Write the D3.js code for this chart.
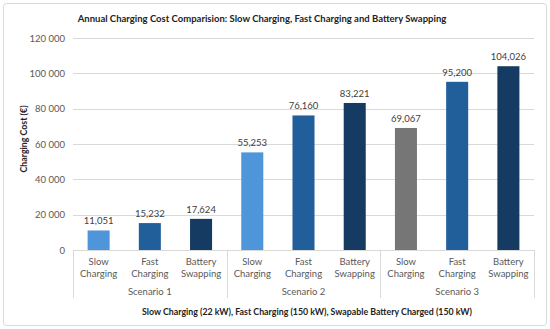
<!DOCTYPE html>
<html>
<head>
<meta charset="utf-8">
<title>Annual Charging Cost</title>
<script src="https://cdn.jsdelivr.net/npm/d3@7"></script>
<style>
  body { margin: 0; background: #fff; }
  svg text { font-family: Lato, "Liberation Sans", sans-serif; }
</style>
</head>
<body>
<svg id="chart" width="550" height="329"></svg>
<script>
// data
var scenarios = ["Scenario 1", "Scenario 2", "Scenario 3"];
var methods = [["Slow", "Charging"], ["Fast", "Charging"], ["Battery", "Swapping"]];
var costs = [
  [11051, 15232, 17624],
  [55253, 76160, 83221],
  [69067, 95200, 104026]
];
var yTicks = [0, 20000, 40000, 60000, 80000, 100000, 120000];
var barColors = [
  ["#4e95d9", "#215f9a", "#163b63"],
  ["#4e95d9", "#215f9a", "#163b63"],
  ["#767676", "#215f9a", "#163b63"]
];

var rows = [];
scenarios.forEach(function(s, i) {
  methods.forEach(function(m, j) {
    rows.push({ key: s + "|" + j, scen: i, meth: j, label: m, value: costs[i][j], color: barColors[i][j] });
  });
});

var svg = d3.select("#chart");
var mLeft = 73, mRight = 534, mTop = 38, mBottom = 250;

svg.append("rect")
  .attr("x", 3.5).attr("y", 3.5).attr("width", 543).attr("height", 322)
  .attr("rx", 3).attr("fill", "#fff").attr("stroke", "#d9d9d9");

var x = d3.scaleBand().domain(rows.map(function(d) { return d.key; }))
  .range([mLeft, mRight]).paddingInner(0.57).paddingOuter(0.285);
var y = d3.scaleLinear().domain([0, 120000]).range([mBottom, mTop]);

// gridlines
svg.append("g").selectAll("line").data(yTicks.slice(1)).enter().append("line")
  .attr("x1", mLeft).attr("x2", mRight)
  .attr("y1", function(d) { return Math.round(y(d)) + 0.5; })
  .attr("y2", function(d) { return Math.round(y(d)) + 0.5; })
  .attr("stroke", "#d9d9d9").attr("stroke-width", 1);

// y axis labels
var fmt = function(v) { return d3.format(",")(v).replace(/,/g, " "); };
var yAxis = svg.append("g").attr("transform", "translate(" + mLeft + ",0)")
  .call(d3.axisLeft(y).tickValues(yTicks).tickFormat(fmt).tickSize(0).tickPadding(8));
yAxis.select(".domain").remove();
yAxis.selectAll("text").attr("font-size", 9.5).attr("fill", "#595959")
  .style("font-family", "Lato, sans-serif");

// bars
svg.append("g").selectAll("rect").data(rows).enter().append("rect")
  .attr("x", function(d) { return x(d.key); })
  .attr("width", x.bandwidth())
  .attr("y", function(d) { return y(d.value); })
  .attr("height", function(d) { return y(0) - y(d.value); })
  .attr("fill", function(d) { return d.color; });

// value labels
svg.append("g").selectAll("text").data(rows).enter().append("text")
  .attr("x", function(d) { return x(d.key) + x.bandwidth() / 2; })
  .attr("y", function(d) { return y(d.value) - 6; })
  .attr("text-anchor", "middle").attr("font-size", 9.5).attr("fill", "#404040")
  .text(function(d) { return d3.format(",")(d.value); });

// category axis box
var axisG = svg.append("g").attr("stroke", "#d9d9d9").attr("stroke-width", 1);
axisG.append("line").attr("x1", mLeft).attr("x2", mRight).attr("y1", mBottom + 0.5).attr("y2", mBottom + 0.5);
var step = x.step();
d3.range(0, 4).forEach(function(k) {
  var xx = Math.round(mLeft + k * 3 * step) + 0.5;
  axisG.append("line").attr("x1", xx).attr("x2", xx).attr("y1", mBottom).attr("y2", 298);
});

// method labels
var lab = svg.append("g").selectAll("text").data(rows).enter().append("text")
  .attr("text-anchor", "middle").attr("font-size", 9.5).attr("fill", "#595959");
lab.append("tspan")
  .attr("x", function(d) { return x(d.key) + x.bandwidth() / 2; }).attr("y", 265)
  .text(function(d) { return d.label[0]; });
lab.append("tspan")
  .attr("x", function(d) { return x(d.key) + x.bandwidth() / 2; }).attr("y", 277)
  .text(function(d) { return d.label[1]; });

// scenario labels
svg.append("g").selectAll("text").data(scenarios).enter().append("text")
  .attr("x", function(d, i) { return mLeft + (i * 3 + 1.5) * step; })
  .attr("y", 295).attr("text-anchor", "middle").attr("font-size", 9.5).attr("fill", "#595959")
  .text(function(d) { return d; });

// titles
svg.append("text").attr("x", 262).attr("y", 22).attr("text-anchor", "middle")
  .attr("font-size", 9.5).attr("font-weight", "bold").attr("fill", "#222")
  .text("Annual Charging Cost Comparision: Slow Charging, Fast Charging and Battery Swapping");

svg.append("text").attr("x", 307).attr("y", 315).attr("text-anchor", "middle")
  .attr("font-size", 8.8).attr("font-weight", "bold").attr("fill", "#222")
  .text("Slow Charging (22 kW), Fast Charging (150 kW), Swapable Battery Charged (150 kW)");

svg.append("text").attr("transform", "translate(27,139) rotate(-90)")
  .attr("text-anchor", "middle").attr("font-size", 8.8).attr("font-weight", "bold").attr("fill", "#222")
  .text("Charging Cost (€)");
</script>
</body>
</html>
